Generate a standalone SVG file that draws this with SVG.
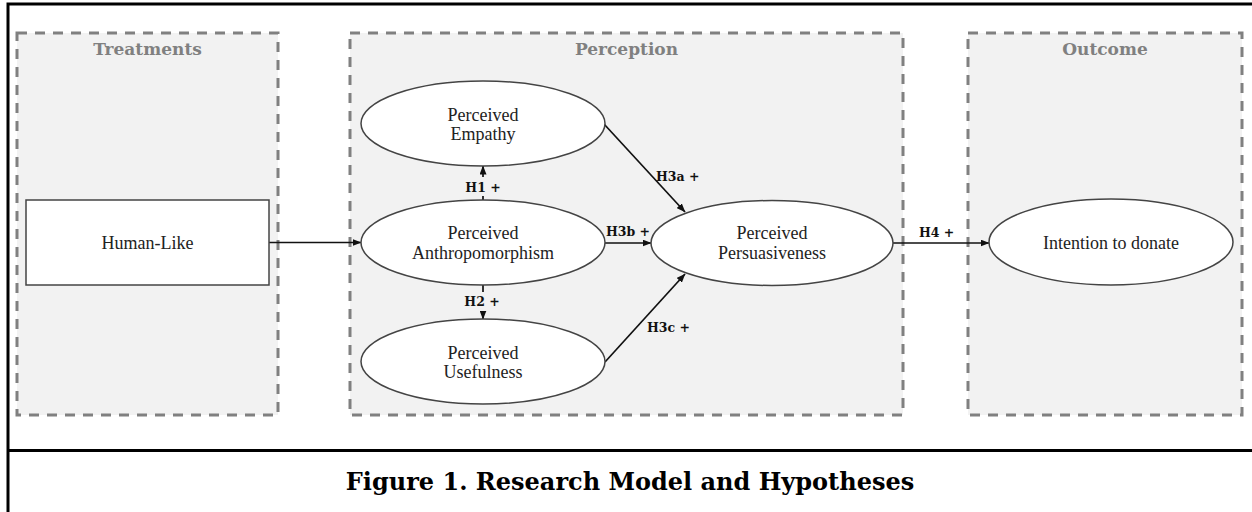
<svg xmlns="http://www.w3.org/2000/svg" width="1252" height="512" viewBox="0 0 1252 512">
<style>
.frame{fill:none;stroke:#000;stroke-width:3}
.group{fill:#f2f2f2;stroke:#808080;stroke-width:3;stroke-dasharray:10 8}
.gtitle{font-family:"DejaVu Serif",serif;font-weight:bold;font-size:17px;fill:#808080;text-anchor:middle}
.node{fill:#fff;stroke:#444;stroke-width:1.5}
.ntext{font-family:"Liberation Serif",serif;font-size:18px;fill:#222;text-anchor:middle}
.edge{fill:none;stroke:#111;stroke-width:1.7}
.lbl{font-family:"DejaVu Serif",serif;font-weight:bold;font-size:12.5px;fill:#111}
.caption{font-family:"DejaVu Serif",serif;font-weight:bold;font-size:24px;fill:#000;text-anchor:middle}
</style>
<defs>
<marker id="arr" markerUnits="userSpaceOnUse" markerWidth="9" markerHeight="7" refX="8.5" refY="3.5" orient="auto">
<path d="M0,0 L9,3.5 L0,7 z" fill="#111"/>
</marker>
</defs>
<rect width="1252" height="512" fill="#fff"/>
<g id="frame">
<path class="frame" d="M8,520 L8,4 L1260,4"/>
<line class="frame" x1="8" y1="450.5" x2="1260" y2="450.5"/>
</g>
<g id="treatments">
<rect class="group" x="17" y="33" width="261" height="382"/>
<text class="gtitle" x="147.5" y="55">Treatments</text>
</g>
<g id="perception">
<rect class="group" x="350" y="33" width="553" height="382"/>
<text class="gtitle" x="626.5" y="55">Perception</text>
</g>
<g id="outcome">
<rect class="group" x="968" y="33" width="274" height="382"/>
<text class="gtitle" x="1105" y="55">Outcome</text>
</g>
<g id="connectors">
<line class="edge" x1="269" y1="242.5" x2="361" y2="242.5" marker-end="url(#arr)"/>
<line class="edge" x1="483" y1="200" x2="483" y2="166" marker-end="url(#arr)"/>
<line class="edge" x1="483" y1="285" x2="483" y2="319" marker-end="url(#arr)"/>
<line class="edge" x1="604" y1="124" x2="685" y2="212" marker-end="url(#arr)"/>
<line class="edge" x1="605" y1="243" x2="651" y2="243" marker-end="url(#arr)"/>
<line class="edge" x1="605" y1="362" x2="685" y2="274" marker-end="url(#arr)"/>
<line class="edge" x1="893" y1="243" x2="989" y2="243" marker-end="url(#arr)"/>
<rect x="463" y="177" width="40" height="19" fill="#f2f2f2"/>
<text class="lbl" x="483" y="192" text-anchor="middle">H1 +</text>
<rect x="461" y="292" width="42" height="19" fill="#f2f2f2"/>
<text class="lbl" x="482" y="306" text-anchor="middle">H2 +</text>
<text class="lbl" x="656" y="181">H3a +</text>
<text class="lbl" x="606" y="236">H3b +</text>
<text class="lbl" x="647" y="332">H3c +</text>
<text class="lbl" x="919" y="237">H4 +</text>
</g>
<g id="human-like">
<rect class="node" x="26" y="200" width="243" height="85"/>
<text class="ntext" x="147.5" y="249">Human-Like</text>
</g>
<g id="empathy">
<ellipse class="node" cx="483" cy="123.5" rx="122" ry="42.5"/>
<text class="ntext" x="483" y="121">Perceived</text>
<text class="ntext" x="483" y="140">Empathy</text>
</g>
<g id="anthropomorphism">
<ellipse class="node" cx="483" cy="242.5" rx="122" ry="42.5"/>
<text class="ntext" x="483" y="239">Perceived</text>
<text class="ntext" x="483" y="258.5">Anthropomorphism</text>
</g>
<g id="usefulness">
<ellipse class="node" cx="483" cy="361.5" rx="122" ry="42.5"/>
<text class="ntext" x="483" y="359">Perceived</text>
<text class="ntext" x="483" y="378">Usefulness</text>
</g>
<g id="persuasiveness">
<ellipse class="node" cx="772" cy="243" rx="121" ry="42.5"/>
<text class="ntext" x="772" y="239">Perceived</text>
<text class="ntext" x="772" y="258.5">Persuasiveness</text>
</g>
<g id="intention">
<ellipse class="node" cx="1111" cy="242" rx="122" ry="43"/>
<text class="ntext" x="1111" y="249">Intention to donate</text>
</g>
<g id="caption">
<text class="caption" x="630" y="490">Figure 1. Research Model and Hypotheses</text>
</g>
</svg>
